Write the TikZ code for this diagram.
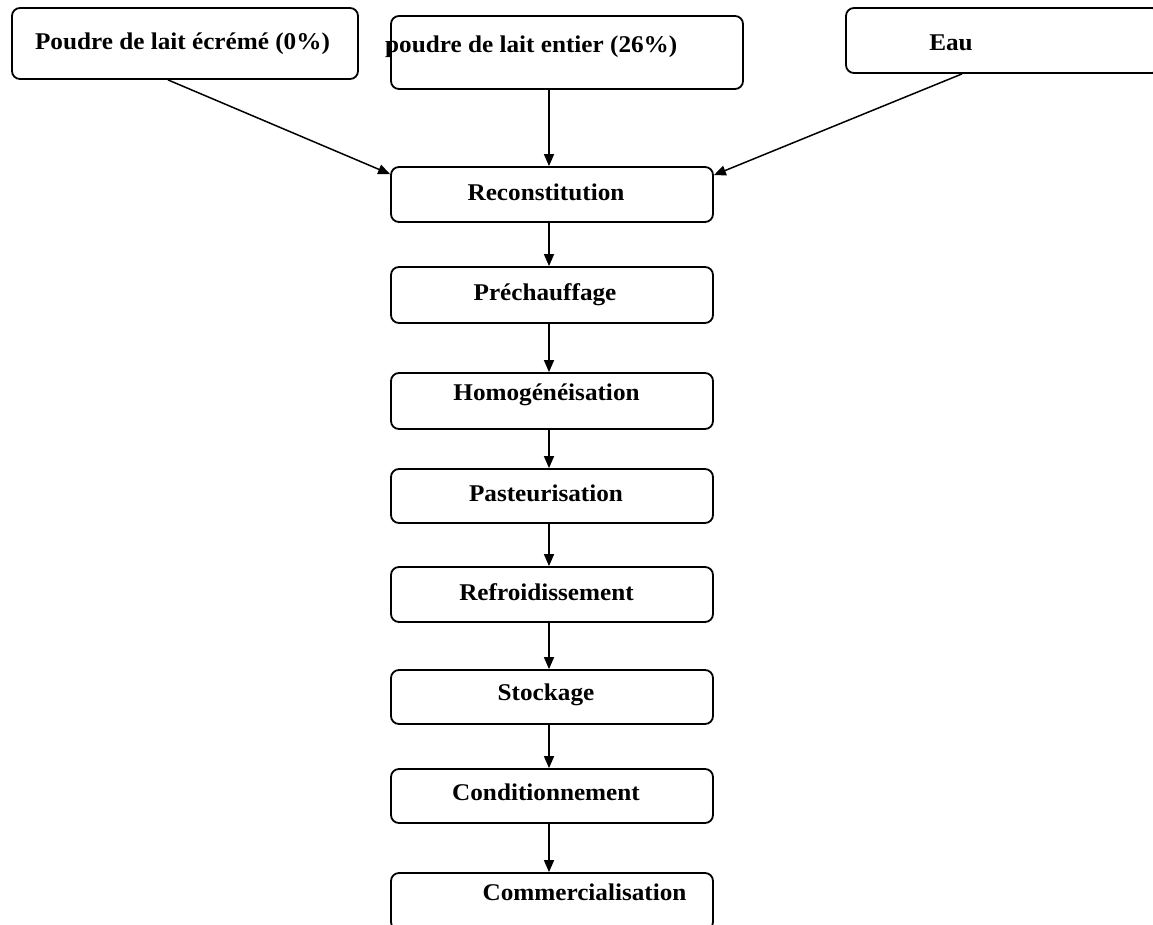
\documentclass[tikz,border=0pt]{standalone}
\usepackage{fontspec}
\setmainfont{Liberation Serif}[FakeStretch=1.05]
\usetikzlibrary{arrows.meta}
\tikzset{
  box/.style={draw, rounded corners=8pt, line width=1.8pt, inner sep=0pt},
  lbl/.style={inner sep=0pt, anchor=base, font=\fontsize{24}{28}\selectfont\bfseries},
  arr/.style={line width=1.5pt, -{Triangle[length=12pt,width=10pt]}}
}
\begin{document}
\begin{tikzpicture}[x=1pt,y=-1pt]
\useasboundingbox (0,0) rectangle (1153,924);
% top boxes
\node[box, minimum width=346pt, minimum height=71pt] (p1) at (185,43.5) {};
\node[box, minimum width=352pt, minimum height=73pt] (p2) at (567,52.5) {};
\node[box, minimum width=314pt, minimum height=65pt] (eau) at (1003,40.5) {};
% main column
\node[box, minimum width=322pt, minimum height=55pt] (rec) at (552,194.5) {};
\node[box, minimum width=322pt, minimum height=56pt] (pre) at (552,295) {};
\node[box, minimum width=322pt, minimum height=56pt] (hom) at (552,401) {};
\node[box, minimum width=322pt, minimum height=54pt] (pas) at (552,496) {};
\node[box, minimum width=322pt, minimum height=55pt] (ref) at (552,594.5) {};
\node[box, minimum width=322pt, minimum height=54pt] (sto) at (552,697) {};
\node[box, minimum width=322pt, minimum height=54pt] (con) at (552,796) {};
\node[box, minimum width=322pt, minimum height=57pt] (com) at (552,901.5) {};
% labels
\node[lbl] (t1) at (182.5,49.5) {Poudre de lait écrémé (0\%)};
\node[lbl, anchor=base west] (t2) at (385,52) {poudre de lait entier (26\%)};
\node[lbl] (t3) at (951,50.7) {Eau};
\node[lbl] (trec) at (546,200.7) {Reconstitution};
\node[lbl] (tpre) at (545,300.7) {Préchauffage};
\node[lbl] (thom) at (546.5,400.7) {Homogénéisation};
\node[lbl] (tpas) at (546,501.7) {Pasteurisation};
\node[lbl] (tref) at (546.5,600) {Refroidissement};
\node[lbl] (tsto) at (546,700) {Stockage};
\node[lbl] (tcon) at (546,800.7) {Conditionnement};
\node[lbl] (tcom) at (584.5,900.7) {Commercialisation};
% connectors
\draw[arr] ([xshift=-17pt]p1.south) -- ([yshift=-8pt]rec.north west);
\draw[arr] ([xshift=-18pt]p2.south) -- ([xshift=-3pt]rec.north);
\draw[arr] ([xshift=-41pt]eau.south) -- ([yshift=-9pt]rec.north east);
\draw[arr] ([xshift=-3pt]rec.south) -- ([xshift=-3pt]pre.north);
\draw[arr] ([xshift=-3pt]pre.south) -- ([xshift=-3pt]hom.north);
\draw[arr] ([xshift=-3pt]hom.south) -- ([xshift=-3pt]pas.north);
\draw[arr] ([xshift=-3pt]pas.south) -- ([xshift=-3pt]ref.north);
\draw[arr] ([xshift=-3pt]ref.south) -- ([xshift=-3pt]sto.north);
\draw[arr] ([xshift=-3pt]sto.south) -- ([xshift=-3pt]con.north);
\draw[arr] ([xshift=-3pt]con.south) -- ([xshift=-3pt]com.north);
\end{tikzpicture}
\end{document}
